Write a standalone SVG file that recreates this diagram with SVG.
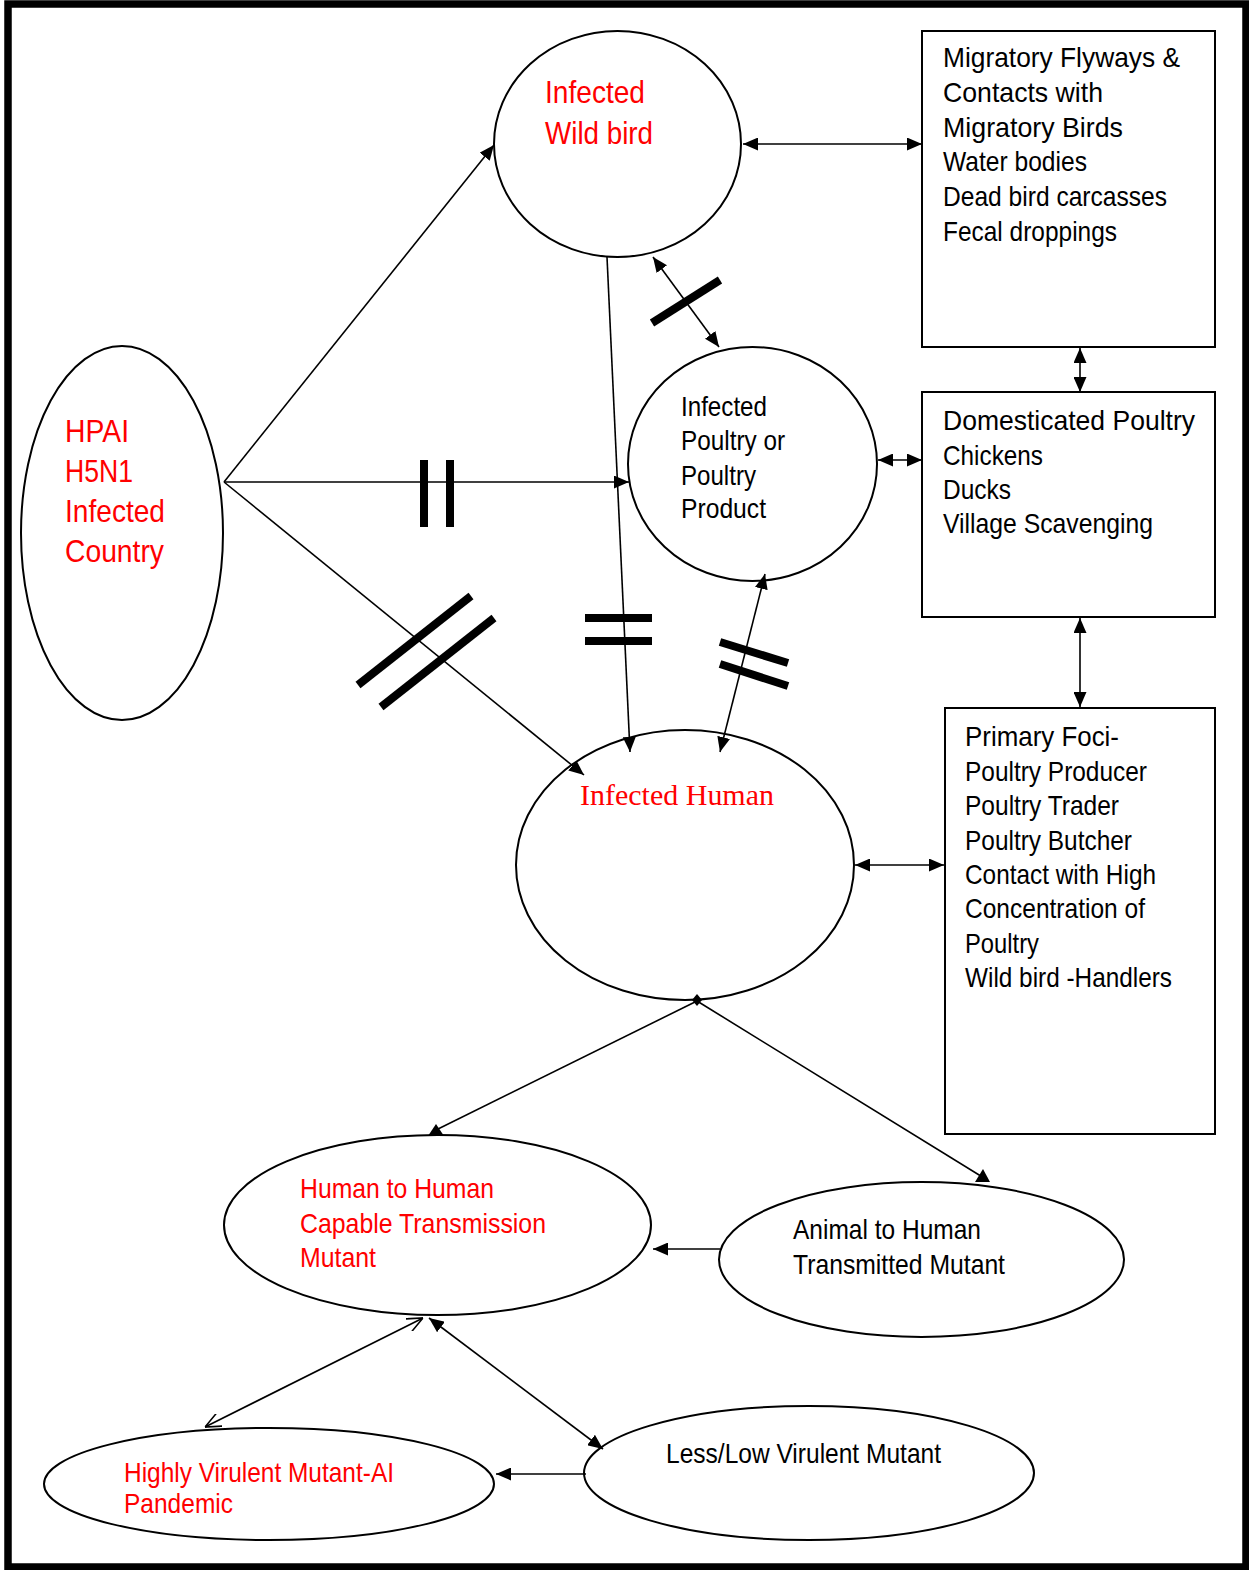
<svg xmlns="http://www.w3.org/2000/svg" width="1249" height="1570" viewBox="0 0 1249 1570">
  <style>
    .shape { fill: #fff; stroke: #000; stroke-width: 2; }
    .link { fill: none; stroke: #000; stroke-width: 1.6; }
    .bar { stroke: #000; stroke-width: 8; }
    .lbl { font-family: "Liberation Sans Narrow", "Arial Narrow", "Liberation Sans", sans-serif; font-size: 28px; fill: #000; }
    .red { fill: #ff0000; }
    .big { font-size: 32px; }
    .serif { font-family: "Liberation Serif", "Times New Roman", serif; font-size: 29px; fill: #ff0000; }
  </style>
  <defs>
    <marker id="tri" viewBox="0 0 15 13" refX="15" refY="6.5" markerWidth="15" markerHeight="13" markerUnits="userSpaceOnUse" orient="auto-start-reverse">
      <path d="M0,0 L15,6.5 L0,13 Z" fill="#000"/>
    </marker>
    <marker id="vee" viewBox="0 0 16 14" refX="16" refY="7" markerWidth="16" markerHeight="14" markerUnits="userSpaceOnUse" orient="auto-start-reverse">
      <path d="M0,0 L16,7 L0,14" fill="none" stroke="#000" stroke-width="1.6"/>
    </marker>
  </defs>

  <rect width="1249" height="1570" fill="#fff"/>
  <!-- page frame -->
  <rect x="8" y="4" width="1238" height="1563" fill="none" stroke="#000" stroke-width="7.5"/>

  <g id="hpai-country">
    <ellipse class="shape" cx="122" cy="533" rx="101" ry="187"/>
    <text class="lbl red big" x="65" y="442" textLength="64" lengthAdjust="spacingAndGlyphs">HPAI</text>
    <text class="lbl red big" x="65" y="482" textLength="68" lengthAdjust="spacingAndGlyphs">H5N1</text>
    <text class="lbl red big" x="65" y="522" textLength="100" lengthAdjust="spacingAndGlyphs">Infected</text>
    <text class="lbl red big" x="65" y="562" textLength="99" lengthAdjust="spacingAndGlyphs">Country</text>
  </g>

  <g id="wild-bird">
    <ellipse class="shape" cx="617.5" cy="144" rx="123.5" ry="113"/>
    <text class="lbl red big" x="545" y="103" textLength="100" lengthAdjust="spacingAndGlyphs">Infected</text>
    <text class="lbl red big" x="545" y="144" textLength="108" lengthAdjust="spacingAndGlyphs">Wild bird</text>
  </g>

  <g id="poultry">
    <ellipse class="shape" cx="752.5" cy="464" rx="124.5" ry="117"/>
    <text class="lbl" x="681" y="416" textLength="86" lengthAdjust="spacingAndGlyphs">Infected</text>
    <text class="lbl" x="681" y="450" textLength="104" lengthAdjust="spacingAndGlyphs">Poultry or</text>
    <text class="lbl" x="681" y="485" textLength="75" lengthAdjust="spacingAndGlyphs">Poultry</text>
    <text class="lbl" x="681" y="518" textLength="85" lengthAdjust="spacingAndGlyphs">Product</text>
  </g>

  <g id="human">
    <ellipse class="shape" cx="685" cy="865" rx="169" ry="135"/>
    <text class="serif" x="580" y="805" textLength="194" lengthAdjust="spacingAndGlyphs">Infected Human</text>
  </g>

  <g id="flyways">
    <rect class="shape" x="922" y="31" width="293" height="316"/>
    <text class="lbl" x="943" y="67" textLength="237" lengthAdjust="spacingAndGlyphs">Migratory Flyways &amp;</text>
    <text class="lbl" x="943" y="102" textLength="160" lengthAdjust="spacingAndGlyphs">Contacts with</text>
    <text class="lbl" x="943" y="137" textLength="180" lengthAdjust="spacingAndGlyphs">Migratory Birds</text>
    <text class="lbl" x="943" y="171" textLength="144" lengthAdjust="spacingAndGlyphs">Water bodies</text>
    <text class="lbl" x="943" y="206" textLength="224" lengthAdjust="spacingAndGlyphs">Dead bird carcasses</text>
    <text class="lbl" x="943" y="241" textLength="174" lengthAdjust="spacingAndGlyphs">Fecal droppings</text>
  </g>

  <g id="domestic">
    <rect class="shape" x="922" y="392" width="293" height="225"/>
    <text class="lbl" x="943" y="430" textLength="252" lengthAdjust="spacingAndGlyphs">Domesticated Poultry</text>
    <text class="lbl" x="943" y="465" textLength="100" lengthAdjust="spacingAndGlyphs">Chickens</text>
    <text class="lbl" x="943" y="499" textLength="68" lengthAdjust="spacingAndGlyphs">Ducks</text>
    <text class="lbl" x="943" y="533" textLength="210" lengthAdjust="spacingAndGlyphs">Village Scavenging</text>
  </g>

  <g id="primary-foci">
    <rect class="shape" x="945" y="708" width="270" height="426"/>
    <text class="lbl" x="965" y="746" textLength="154" lengthAdjust="spacingAndGlyphs">Primary Foci-</text>
    <text class="lbl" x="965" y="781" textLength="182" lengthAdjust="spacingAndGlyphs">Poultry Producer</text>
    <text class="lbl" x="965" y="815" textLength="154" lengthAdjust="spacingAndGlyphs">Poultry Trader</text>
    <text class="lbl" x="965" y="850" textLength="167" lengthAdjust="spacingAndGlyphs">Poultry Butcher</text>
    <text class="lbl" x="965" y="884" textLength="191" lengthAdjust="spacingAndGlyphs">Contact with High</text>
    <text class="lbl" x="965" y="918" textLength="180" lengthAdjust="spacingAndGlyphs">Concentration of</text>
    <text class="lbl" x="965" y="953" textLength="74" lengthAdjust="spacingAndGlyphs">Poultry</text>
    <text class="lbl" x="965" y="987" textLength="207" lengthAdjust="spacingAndGlyphs">Wild bird -Handlers</text>
  </g>

  <g id="h2h-mutant">
    <ellipse class="shape" cx="437.5" cy="1225" rx="213.5" ry="90"/>
    <text class="lbl red" x="300" y="1198" textLength="194" lengthAdjust="spacingAndGlyphs">Human to Human</text>
    <text class="lbl red" x="300" y="1233" textLength="246" lengthAdjust="spacingAndGlyphs">Capable Transmission</text>
    <text class="lbl red" x="300" y="1267" textLength="76" lengthAdjust="spacingAndGlyphs">Mutant</text>
  </g>

  <g id="a2h-mutant">
    <ellipse class="shape" cx="921.5" cy="1259.5" rx="202.5" ry="77.5"/>
    <text class="lbl" x="793" y="1239" textLength="188" lengthAdjust="spacingAndGlyphs">Animal to Human</text>
    <text class="lbl" x="793" y="1274" textLength="212" lengthAdjust="spacingAndGlyphs">Transmitted Mutant</text>
  </g>

  <g id="high-virulent">
    <ellipse class="shape" cx="269" cy="1484" rx="225" ry="56"/>
    <text class="lbl red" x="124" y="1482" textLength="270" lengthAdjust="spacingAndGlyphs">Highly Virulent Mutant-AI</text>
    <text class="lbl red" x="124" y="1513" textLength="109" lengthAdjust="spacingAndGlyphs">Pandemic</text>
  </g>

  <g id="low-virulent">
    <ellipse class="shape" cx="809" cy="1473" rx="225" ry="67"/>
    <text class="lbl" x="666" y="1463" textLength="275" lengthAdjust="spacingAndGlyphs">Less/Low Virulent Mutant</text>
  </g>

  <!-- connectors, drawn over the nodes so the heads show inside the outlines -->
  <g id="connectors">
    <line class="link" x1="224" y1="482" x2="494" y2="145" marker-end="url(#tri)"/>
    <line class="link" x1="224" y1="482" x2="629" y2="482" marker-end="url(#tri)"/>
    <line class="link" x1="224" y1="482" x2="584" y2="775" marker-end="url(#tri)"/>
    <line class="link" x1="607" y1="257" x2="630" y2="752" marker-end="url(#tri)"/>
    <line class="link" x1="653" y1="257" x2="719" y2="347" marker-start="url(#tri)" marker-end="url(#tri)"/>
    <line class="link" x1="765" y1="574" x2="720" y2="752" marker-start="url(#tri)" marker-end="url(#tri)"/>
    <line class="link" x1="743" y1="144" x2="922" y2="144" marker-start="url(#tri)" marker-end="url(#tri)"/>
    <line class="link" x1="1080" y1="348" x2="1080" y2="392" marker-start="url(#tri)" marker-end="url(#tri)"/>
    <line class="link" x1="878" y1="460" x2="922" y2="460" marker-start="url(#tri)" marker-end="url(#tri)"/>
    <line class="link" x1="1080" y1="618" x2="1080" y2="707" marker-start="url(#tri)" marker-end="url(#tri)"/>
    <line class="link" x1="855" y1="865" x2="944" y2="865" marker-start="url(#tri)" marker-end="url(#tri)"/>
    <line class="link" x1="697" y1="1001" x2="436" y2="1130"/>
    <line class="link" x1="697" y1="1001" x2="984" y2="1178"/>
    <path d="M697,994 L702,1000 L697,1006 L692,1000 Z" fill="#000"/>
    <path d="M436,1124 L444,1136 L428,1136 Z" fill="#000"/>
    <path d="M983,1169 L990,1182 L975,1182 Z" fill="#000"/>
    <line class="link" x1="720" y1="1249" x2="653" y2="1249" marker-end="url(#tri)"/>
    <line class="link" x1="423" y1="1318" x2="205" y2="1427" marker-start="url(#vee)" marker-end="url(#vee)"/>
    <line class="link" x1="429" y1="1318" x2="603" y2="1449" marker-start="url(#tri)" marker-end="url(#tri)"/>
    <line class="link" x1="586" y1="1474" x2="496" y2="1474" marker-end="url(#tri)"/>

    <!-- blocked-route bars -->
    <line class="bar" x1="424" y1="460" x2="424" y2="527"/>
    <line class="bar" x1="450" y1="460" x2="450" y2="527"/>
    <line class="bar" x1="358" y1="685" x2="471" y2="596"/>
    <line class="bar" x1="381" y1="707" x2="494" y2="618"/>
    <line class="bar" x1="585" y1="618" x2="652" y2="618"/>
    <line class="bar" x1="585" y1="641" x2="652" y2="641"/>
    <line class="bar" x1="652" y1="323" x2="720" y2="280"/>
    <line class="bar" x1="720" y1="642" x2="788" y2="663"/>
    <line class="bar" x1="720" y1="664" x2="788" y2="686"/>
  </g>
</svg>
